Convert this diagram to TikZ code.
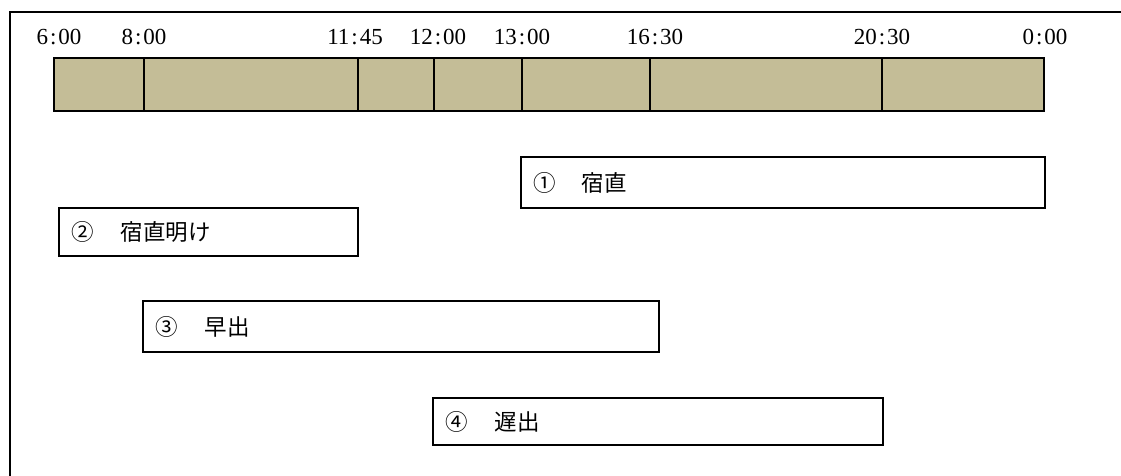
\documentclass[tikz,border=0pt]{standalone}
\usepackage{fontspec}
\setmainfont{Liberation Serif}
\newfontfamily\jp{Noto Sans CJK JP}
\definecolor{tan}{HTML}{C4BD97}
\newcommand{\tm}[2]{#1\makebox[0.45em]{:}#2}
\begin{document}
\begin{tikzpicture}[x=1pt,y=-1pt,
  cell/.style={draw, line width=1.8pt, fill=tan, inner sep=0pt, outer sep=0pt, anchor=north west, minimum height=53pt},
  shiftbox/.style={draw, line width=1.8pt, fill=white, inner sep=0pt, outer sep=0pt, anchor=north west},
  tlabel/.style={inner sep=0pt, font=\fontsize{23pt}{25pt}\selectfont},
  blabel/.style={inner sep=0pt, anchor=west, font=\jp\fontsize{22.5pt}{25pt}\selectfont}]
\useasboundingbox (0,0) rectangle (1121,476);
% outer frame
\coordinate (fbl) at (10,476);
\coordinate (ftl) at (10,12);
\coordinate (ftr) at (1121,12);
\draw[line width=2pt] (fbl) -- (ftl) -- (ftr);
% timeline cells
\node[cell, minimum width=90pt]  (c1) at (54,58) {};
\node[cell, minimum width=214pt] (c2) at (144,58) {};
\node[cell, minimum width=76pt]  (c3) at (358,58) {};
\node[cell, minimum width=88pt]  (c4) at (434,58) {};
\node[cell, minimum width=128pt] (c5) at (522,58) {};
\node[cell, minimum width=232pt] (c6) at (650,58) {};
\node[cell, minimum width=162pt] (c7) at (882,58) {};
% time labels
\node[tlabel] (t1) at (59,37) {\tm{6}{00}};
\node[tlabel] (t2) at (144,37) {\tm{8}{00}};
\node[tlabel] (t3) at (355,37) {\tm{11}{45}};
\node[tlabel] (t4) at (438,37) {\tm{12}{00}};
\node[tlabel] (t5) at (522,37) {\tm{13}{00}};
\node[tlabel] (t6) at (655,37) {\tm{16}{30}};
\node[tlabel] (t7) at (882,37) {\tm{20}{30}};
\node[tlabel] (t8) at (1045,37) {\tm{0}{00}};
% shift boxes
\node[shiftbox, minimum width=524pt, minimum height=51pt] (b1) at (521,157) {};
\node[shiftbox, minimum width=299pt, minimum height=48pt] (b2) at (59,208) {};
\node[shiftbox, minimum width=516pt, minimum height=51pt] (b3) at (143,301) {};
\node[shiftbox, minimum width=450pt, minimum height=47pt] (b4) at (433,398) {};
\node[blabel] (l1) at ([xshift=12pt]b1.west) {①\hspace{26pt}宿直};
\node[blabel] (l2) at ([xshift=12pt]b2.west) {②\hspace{27pt}宿直明け};
\node[blabel] (l3) at ([xshift=12pt]b3.west) {③\hspace{27pt}早出};
\node[blabel] (l4) at ([xshift=12pt]b4.west) {④\hspace{27pt}遅出};
\end{tikzpicture}
\end{document}
